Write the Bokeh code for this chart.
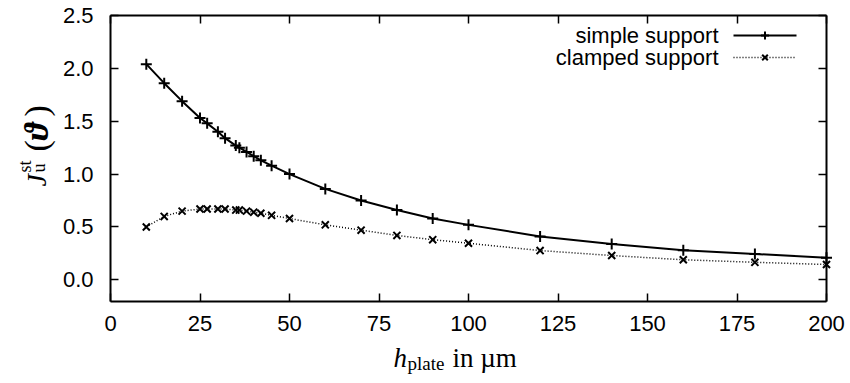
import math
from bokeh.plotting import figure
from bokeh.models import (Range1d, LinearAxis, FixedTicker, PrintfTickFormatter,
                          Label, CustomLabelingPolicy)
from bokeh.embed import file_html
from bokeh.resources import INLINE

# ---- data ----
h_plate = [10, 15, 20, 25, 27, 30, 32, 35, 36, 38, 40, 42, 45, 50,
           60, 70, 80, 90, 100, 120, 140, 160, 180, 200]
j_simple = [2.04, 1.86, 1.69, 1.53, 1.48, 1.40, 1.34, 1.27, 1.25, 1.21, 1.17, 1.13, 1.08, 1.00,
            0.86, 0.75, 0.66, 0.58, 0.52, 0.41, 0.34, 0.28, 0.245, 0.21]
j_clamped = [0.50, 0.60, 0.65, 0.67, 0.67, 0.67, 0.67, 0.66, 0.66, 0.65, 0.64, 0.63, 0.61, 0.58,
             0.52, 0.47, 0.42, 0.38, 0.346, 0.277, 0.23, 0.19, 0.166, 0.145]
x_ticks = [0, 25, 50, 75, 100, 125, 150, 175, 200]
y_ticks = [0.0, 0.5, 1.0, 1.5, 2.0, 2.5]
series_names = ["simple support", "clamped support"]

W, H = 850, 383
# pixel box of the plotting area and its data limits
FL, FR, FT, FB = 110, 826, 15, 300.5
X0, X1, Y0, Y1 = 0, 200, -0.2, 2.5

def dx(px):
    return X0 + (px - FL) / (FR - FL) * (X1 - X0)

def dy(py):
    return Y0 + (FB - py) / (FB - FT) * (Y1 - Y0)

# The frame covers the whole canvas; axes sit at fixed locations so that
# axis titles (drawn as text pieces) are not clipped.
p = figure(width=W, height=H, x_range=Range1d(dx(0), dx(W)), y_range=Range1d(dy(H), dy(0)),
           output_backend="svg", toolbar_location=None,
           min_border_left=0, min_border_right=0, min_border_top=0, min_border_bottom=0)
p.title.visible = False
p.background_fill_color = "white"
p.border_fill_color = "white"
p.outline_line_color = None
p.xgrid.visible = False
p.ygrid.visible = False

hide_all = CustomLabelingPolicy(code="for (const i of Array.from(indices)) { indices.unset(i) } return indices")

def style_axis(ax, ticks, bounds, loc, show_labels):
    ax.ticker = FixedTicker(ticks=ticks)
    ax.bounds = bounds
    ax.fixed_location = loc
    ax.major_tick_in = 8
    ax.major_tick_out = 0
    ax.minor_tick_in = 0
    ax.minor_tick_out = 0
    ax.major_tick_line_width = 1.5
    ax.major_tick_line_color = "black"
    ax.axis_line_color = "black"
    ax.axis_line_width = 2
    ax.major_label_text_font = "Liberation Sans"
    ax.major_label_text_color = "black"
    ax.major_label_text_font_size = "22px"
    if not show_labels:
        ax.major_label_policy = hide_all
        ax.major_label_text_font_size = "1px"
        ax.major_label_standoff = 0

style_axis(p.xaxis[0], x_ticks, (X0, X1), Y0, True)
style_axis(p.yaxis[0], y_ticks, (Y0, Y1), X0, True)
p.xaxis[0].major_label_standoff = 15
p.yaxis[0].major_label_standoff = 17
p.yaxis[0].formatter = PrintfTickFormatter(format="%.1f")

top = LinearAxis()
style_axis(top, x_ticks, (X0, X1), Y1, False)
p.add_layout(top, "above")
right = LinearAxis()
style_axis(right, y_ticks, (Y0, Y1), X1, False)
p.add_layout(right, "right")

# ---- series ----
S1 = dict(line_color="black", line_width=2)
S2 = dict(line_color="black", line_width=1.5, line_dash="1 2")
M1 = dict(marker="cross", size=11, line_color="black", line_width=2)
M2 = dict(marker="x", size=10, line_color="black", line_width=2)
p.line(h_plate, j_simple, **S1)
p.scatter(h_plate, j_simple, **M1)
p.line(h_plate, j_clamped, **S2)
p.scatter(h_plate, j_clamped, **M2)

# ---- gnuplot-style key: text right-aligned, sample to the right ----
for name, ls, ms, row in [(series_names[0], S1, M1, 35), (series_names[1], S2, M2, 57)]:
    p.line([dx(733), dx(796)], [dy(row), dy(row)], **ls)
    p.scatter([dx(764.5)], [dy(row)], **dict(ms, size=8))
    p.add_layout(Label(x=dx(718), y=dy(row), text=name, text_align="right",
                       text_baseline="middle", text_font="Liberation Sans",
                       text_font_size="22px", text_color="black"))

# ---- axis titles built from text pieces ----
def add_text(px, py, txt, size, style="normal", angle=0.0):
    p.add_layout(Label(x=dx(px), y=dy(py), text=txt, angle=angle,
                       text_align="left", text_baseline="alphabetic",
                       text_font="Liberation Serif", text_font_size=size,
                       text_font_style=style, text_color="black"))

A = math.pi / 2
add_text(36, 186, "J", "28px", "italic", A)
add_text(38, 172, "u", "18px", "normal", A)
add_text(24, 172, "st", "18px", "normal", A)
add_text(36, 151, "(", "34px", "normal", A)
add_text(36, 140, "ϑ", "34px", "bold italic", A)
add_text(36, 116, ")", "34px", "normal", A)

add_text(393, 357, "h", "27px", "italic")
add_text(407, 363, "plate", "19px")
add_text(452, 357, "in µm", "27px")

open("out.html", "w").write(file_html(p, INLINE))
